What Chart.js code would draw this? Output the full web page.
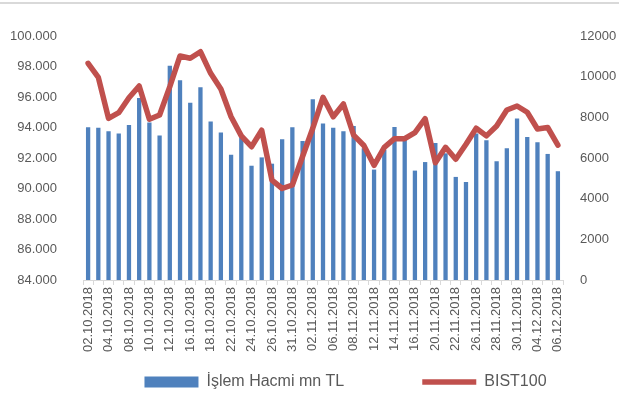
<!DOCTYPE html>
<html>
<head>
<meta charset="utf-8">
<script src="https://cdn.jsdelivr.net/npm/chart.js@4.4.1/dist/chart.umd.min.js"></script>
<style>
  body { margin: 0; background: #fff; }
  #wrap { position: relative; width: 619px; height: 416px; }
  #topline { position: absolute; left: 0; top: 2px; width: 619px; height: 2px; background: #d9d9d9; }
</style>
</head>
<body>
<div id="wrap">
  <div id="topline"></div>
  <canvas id="chart" width="619" height="416"></canvas>
</div>
<script>
// trading days, 02.10.2018 - 06.12.2018
const dates = [
  '02.10.2018','03.10.2018','04.10.2018','05.10.2018','08.10.2018','09.10.2018','10.10.2018','11.10.2018',
  '12.10.2018','15.10.2018','16.10.2018','17.10.2018','18.10.2018','19.10.2018','22.10.2018','23.10.2018',
  '24.10.2018','25.10.2018','26.10.2018','30.10.2018','31.10.2018','01.11.2018','02.11.2018','05.11.2018',
  '06.11.2018','07.11.2018','08.11.2018','09.11.2018','12.11.2018','13.11.2018','14.11.2018','15.11.2018',
  '16.11.2018','19.11.2018','20.11.2018','21.11.2018','22.11.2018','23.11.2018','26.11.2018','27.11.2018',
  '28.11.2018','29.11.2018','30.11.2018','03.12.2018','04.12.2018','05.12.2018','06.12.2018'
];

// İşlem Hacmi mn TL (right axis)
const volume = [
  7510, 7490, 7310, 7200, 7620, 8950, 7750, 7110,
  10540, 9820, 8720, 9480, 7800, 7260, 6160, 7020,
  5620, 6030, 5720, 6920, 7510, 6840, 8890, 7700,
  7490, 7310, 7570, 6480, 5430, 6400, 7520, 6890,
  5380, 5800, 6740, 6230, 5070, 4820, 7210, 6870,
  5840, 6480, 7940, 7030, 6770, 6200, 5350
];

// BIST100 (left axis)
const bist = [
  98210, 97290, 94600, 94970, 95950, 96720, 94540, 94820,
  96680, 98690, 98540, 98970, 97550, 96520, 94710, 93450,
  92740, 93820, 90550, 90000, 90230, 92100, 93950, 95980,
  94700, 95540, 93500, 92820, 91520, 92700, 93270, 93270,
  93670, 94580, 91690, 92700, 91920, 92900, 93950, 93450,
  94100, 95150, 95410, 95000, 93900, 94000, 92850
];

const txt = '#595959';
const fam = '"Liberation Sans", Arial, sans-serif';
const legendGap = 78;

// legend: wide gap between the two items but a short box
const legendFix = {
  id: 'legendFix',
  beforeUpdate(chart) {
    const lg = chart.legend;
    if (!lg || lg._fixed) return;
    const fit = lg.fit;
    lg.fit = function () { fit.call(this); this.height = 46; };
    lg._fixed = true;
  },
  afterLayout(chart) {
    const lg = chart.legend;
    lg.top -= legendGap - 10;   // only move top, legend clips to its box
    lg.left += 32;
    lg.right += 32;
  }
};

new Chart(document.getElementById('chart'), {
  type: 'bar',
  data: {
    labels: dates,
    datasets: [
      {
        type: 'bar',
        label: 'İşlem Hacmi mn TL',
        data: volume,
        yAxisID: 'y1',
        backgroundColor: '#4F81BD',
        borderWidth: 0,
        barPercentage: 0.42,
        categoryPercentage: 1,
        order: 1,
        pointStyle: 'rect'
      },
      {
        type: 'line',
        label: 'BIST100',
        data: bist,
        yAxisID: 'y',
        borderColor: '#C0504D',
        backgroundColor: '#C0504D',
        borderWidth: 5.5,
        borderCapStyle: 'round',
        borderJoinStyle: 'round',
        pointRadius: 0,
        tension: 0,
        order: 0,
        pointStyle: 'line'
      }
    ]
  },
  plugins: [legendFix],
  options: {
    responsive: false,
    animation: false,
    layout: { padding: { left: 8, right: 0, top: 36, bottom: 6 } },
    plugins: {
      tooltip: { enabled: false },
      legend: {
        position: 'bottom',
        labels: {
          usePointStyle: true,
          pointStyleWidth: 54,
          boxHeight: 11,
          padding: legendGap,
          color: txt,
          font: { family: fam, size: 16 },
          sort: (a, b) => a.datasetIndex - b.datasetIndex
        }
      }
    },
    scales: {
      x: {
        offset: true,
        grid: {
          offset: true,
          drawOnChartArea: false,
          drawTicks: true,
          tickLength: 5,
          color: '#d9d9d9'
        },
        border: { display: true, color: '#d9d9d9', width: 1 },
        ticks: {
          autoSkip: false,
          minRotation: 90,
          maxRotation: 90,
          padding: 2,
          color: txt,
          font: { family: fam, size: 13 },
          callback: function (v, i) { return i % 2 === 0 ? dates[i] : ''; }
        },
        afterFit: s => { s.height = 84; }
      },
      y: {
        position: 'left',
        min: 84000,
        max: 100000,
        grid: { display: false, drawTicks: false },
        border: { display: false },
        ticks: {
          stepSize: 2000,
          padding: 26,
          color: txt,
          font: { family: fam, size: 13 },
          callback: v => (v / 1000).toFixed(3)
        },
        afterFit: s => { s.width = 75; }
      },
      y1: {
        position: 'right',
        min: 0,
        max: 12000,
        grid: { display: false, drawTicks: false },
        border: { display: false },
        ticks: {
          stepSize: 2000,
          padding: 17,
          color: txt,
          font: { family: fam, size: 13 },
          callback: v => String(v)
        },
        afterFit: s => { s.width = 56; }
      }
    }
  }
});
</script>
</body>
</html>
